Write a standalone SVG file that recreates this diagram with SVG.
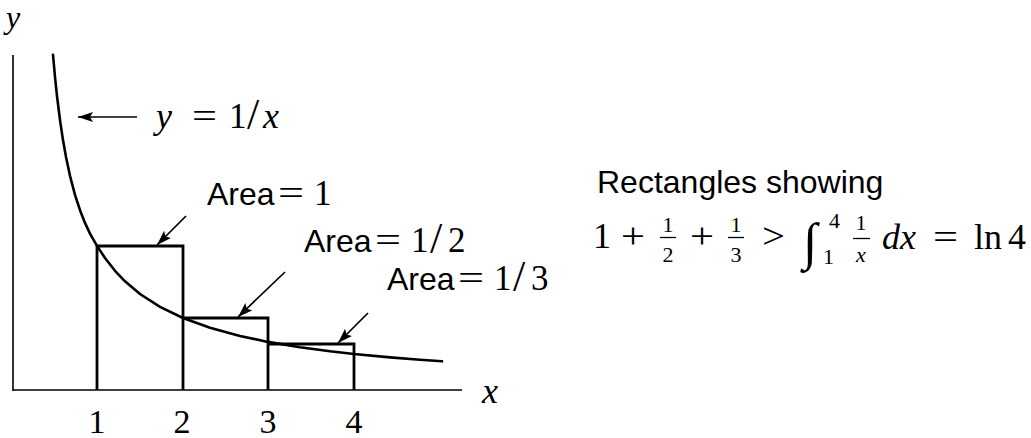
<svg xmlns="http://www.w3.org/2000/svg" width="1031" height="438" viewBox="0 0 1031 438">
<style>
.ax{stroke:#000;stroke-width:1.6;fill:none}
.rc{stroke:#000;stroke-width:2.8;fill:none;stroke-linejoin:miter}
.cv{stroke:#000;stroke-width:2.6;fill:none;stroke-linejoin:round;stroke-linecap:round}
.ar{stroke:#000;stroke-width:1.7;fill:none}
.sans{font-family:"Liberation Sans",Arial,sans-serif;font-size:32px;fill:#000}
.m{font-family:"Liberation Serif","Times New Roman",serif;font-size:35px;fill:#000}
.mi{font-family:"Liberation Serif","Times New Roman",serif;font-size:36px;font-style:italic;fill:#000}
.big{font-size:36px}
.sl{font-size:44px}
.sm{font-size:22px}
.bar{stroke:#000;stroke-width:1.3}
</style>
<defs>
<marker id="ah" markerUnits="userSpaceOnUse" markerWidth="18" markerHeight="12" refX="15" refY="5" orient="auto">
<path d="M0,0 L15,5 L0,10 L3,5 Z" fill="#000"/>
</marker>
</defs>
<rect width="1031" height="438" fill="#fff"/>
<g id="axes">
<line class="ax" x1="13" y1="55" x2="13" y2="391"/>
<line class="ax" x1="13" y1="390" x2="462" y2="390"/>
<text class="mi" style="font-size:32px" x="6" y="28">y</text>
<text class="mi" x="482" y="403">x</text>
</g>
<g id="ticks">
<text class="m" style="font-size:34px" x="97" y="433" text-anchor="middle">1</text>
<text class="m" style="font-size:34px" x="182" y="433" text-anchor="middle">2</text>
<text class="m" style="font-size:34px" x="268" y="433" text-anchor="middle">3</text>
<text class="m" style="font-size:34px" x="354" y="433" text-anchor="middle">4</text>
</g>
<g id="rectangles">
<path class="rc" d="M97,390 V246 H183 V390"/>
<path class="rc" d="M183,318 H268 V390"/>
<path class="rc" d="M268,344 H354 V390"/>
</g>
<g id="curve">
<polyline class="cv" points="53,54.9 55,77 57,96 60,120.1 63,140.1 66,157 70,175.8 75,194.8 80,210.2 85,222.9 90,233.6 97,245.9 105,258 115,270.8 125,281.3 140,294 160,306.9 183,318 210,327.8 240,336 268,341.9 300,347.2 330,351.3 354,354 390,357.4 420,359.8 442,361.3"/>
</g>
<g id="connectors">
<line class="ar" x1="137" y1="117" x2="78" y2="117" marker-end="url(#ah)"/>
<line class="ar" x1="186" y1="216" x2="157" y2="245" marker-end="url(#ah)"/>
<line class="ar" x1="285" y1="272" x2="238" y2="317" marker-end="url(#ah)"/>
<line class="ar" x1="368" y1="313" x2="338" y2="343" marker-end="url(#ah)"/>
</g>
<g id="label-curve">
<text class="mi" x="156" y="128">y</text>
<text class="m" x="192" y="128" textLength="25" lengthAdjust="spacingAndGlyphs">=</text>
<text class="m" x="229" y="128">1</text>
<text class="m sl" x="247" y="129">/</text>
<text class="mi" x="263" y="128">x</text>
</g>
<g id="label-area1">
<text class="sans" x="207" y="205">Area</text>
<text class="m" x="278" y="205" textLength="26" lengthAdjust="spacingAndGlyphs">=</text>
<text class="m" x="314" y="205">1</text>
</g>
<g id="label-area2">
<text class="sans" x="304" y="252">Area</text>
<text class="m" x="375" y="252" textLength="26" lengthAdjust="spacingAndGlyphs">=</text>
<text class="m" x="411" y="252">1</text>
<text class="m sl" x="430" y="253">/</text>
<text class="m" x="448" y="252">2</text>
</g>
<g id="label-area3">
<text class="sans" x="387" y="290">Area</text>
<text class="m" x="458" y="290" textLength="26" lengthAdjust="spacingAndGlyphs">=</text>
<text class="m" x="494" y="290">1</text>
<text class="m sl" x="513" y="291">/</text>
<text class="m" x="531" y="290">3</text>
</g>
<g id="caption">
<text class="sans" x="597" y="193">Rectangles showing</text>
<text class="m big" x="593" y="248">1</text>
<text class="m big" x="621" y="248" textLength="24" lengthAdjust="spacingAndGlyphs">+</text>
<text class="m sm" x="668" y="232" text-anchor="middle">1</text>
<line class="bar" x1="660" y1="237.5" x2="676" y2="237.5"/>
<text class="m sm" x="668" y="262" text-anchor="middle">2</text>
<text class="m big" x="690" y="248" textLength="24" lengthAdjust="spacingAndGlyphs">+</text>
<text class="m sm" x="736" y="232" text-anchor="middle">1</text>
<line class="bar" x1="728" y1="237.5" x2="744" y2="237.5"/>
<text class="m sm" x="736" y="262" text-anchor="middle">3</text>
<text class="m big" x="762" y="248" textLength="23" lengthAdjust="spacingAndGlyphs">&gt;</text>
<text class="m" style="font-size:52px" x="803" y="259">∫</text>
<text class="m sm" x="829" y="228">4</text>
<text class="m sm" x="823" y="264">1</text>
<text class="m sm" x="861" y="230" text-anchor="middle">1</text>
<line class="bar" x1="853" y1="238.5" x2="870" y2="238.5"/>
<text class="mi sm" x="861" y="262" text-anchor="middle">x</text>
<text class="mi big" x="882" y="249">dx</text>
<text class="m big" x="933" y="249" textLength="25" lengthAdjust="spacingAndGlyphs">=</text>
<text class="m big" x="974" y="249">ln</text>
<text class="m big" x="1008" y="249">4</text>
</g>
</svg>
